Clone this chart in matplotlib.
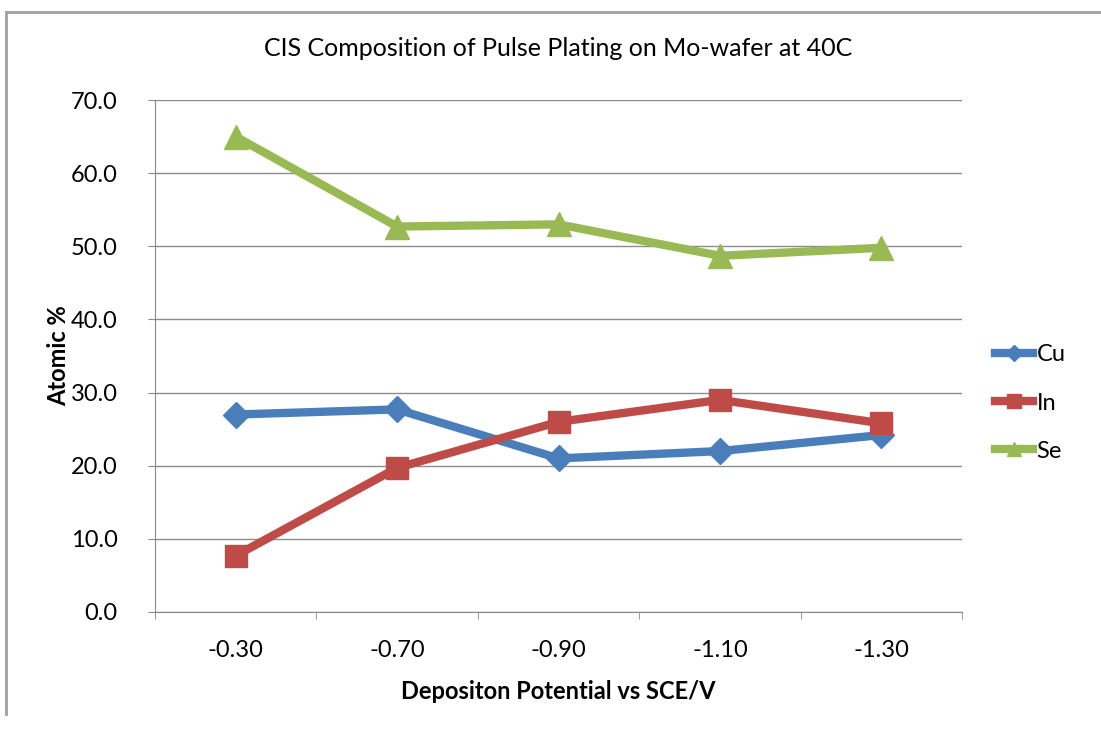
import matplotlib.pyplot as plt
from matplotlib.lines import Line2D
import numpy as np

plt.rcParams['font.family'] = ['Lato', 'DejaVu Sans']

potentials = ['-0.30', '-0.70', '-0.90', '-1.10', '-1.30']
cu = [27.0, 27.7, 21.0, 22.0, 24.2]
indium = [7.7, 19.7, 26.0, 29.0, 25.8]
se = [65.0, 52.7, 53.0, 48.7, 49.8]

fig = plt.figure(figsize=(11.01, 7.29), dpi=100)
ax = fig.add_axes([0.1408, 0.1605, 0.733, 0.7023])

x = np.arange(len(potentials))
series = [
    ('Cu', cu, '#4A7EBB', 'D', 13),
    ('In', indium, '#BE4B48', 's', 16),
    ('Se', se, '#98B954', '^', 17),
]
for name, vals, col, mk, ms in series:
    ax.plot(x, vals, color=col, lw=6, marker=mk, ms=ms, label=name,
            markeredgecolor=col, solid_joinstyle='round')

ax.set_xlim(-0.5, len(potentials) - 0.5)
ax.set_ylim(0, 70)
ax.set_yticks(np.arange(0, 71, 10))
ax.set_yticklabels(['%.1f' % v for v in np.arange(0, 71, 10)], fontsize=17)
ax.set_xticks(x)
ax.set_xticklabels(potentials, fontsize=17)
ax.set_xticks(np.arange(-0.5, len(potentials)), minor=True)
ax.tick_params(axis='x', which='major', length=0, pad=20)
ax.tick_params(axis='x', which='minor', length=5, color='#888888')
ax.tick_params(axis='y', length=5, color='#888888', pad=22)
ax.grid(axis='y', color='#8c8c8c', lw=1)
ax.set_axisbelow(True)
for s in ['top', 'right']:
    ax.spines[s].set_visible(False)
ax.spines['left'].set_color('#888888')
ax.spines['bottom'].set_color('#888888')

ax.set_xlabel('Depositon Potential vs SCE/V', fontsize=17, fontweight='bold', labelpad=14)
ax.set_ylabel('Atomic %', fontsize=17, fontweight='bold', labelpad=0)
ax.set_title('CIS Composition of Pulse Plating on Mo-wafer at 40C', fontsize=18, pad=32)

leg = ax.legend(loc='center left', bbox_to_anchor=(1.041, 0.408), frameon=False,
                fontsize=17, handlelength=1.6, handletextpad=0.15, labelspacing=1.15,
                borderpad=0, borderaxespad=0, markerscale=0.6)

# outer chart border
fig.add_artist(Line2D([0.005, 1.0], [0.983, 0.983], color='#a0a0a0', lw=2,
                      transform=fig.transFigure))
fig.add_artist(Line2D([0.005, 0.005], [0.983, 0.02], color='#a0a0a0', lw=2,
                      transform=fig.transFigure))

fig.savefig('out.png', dpi=100)
